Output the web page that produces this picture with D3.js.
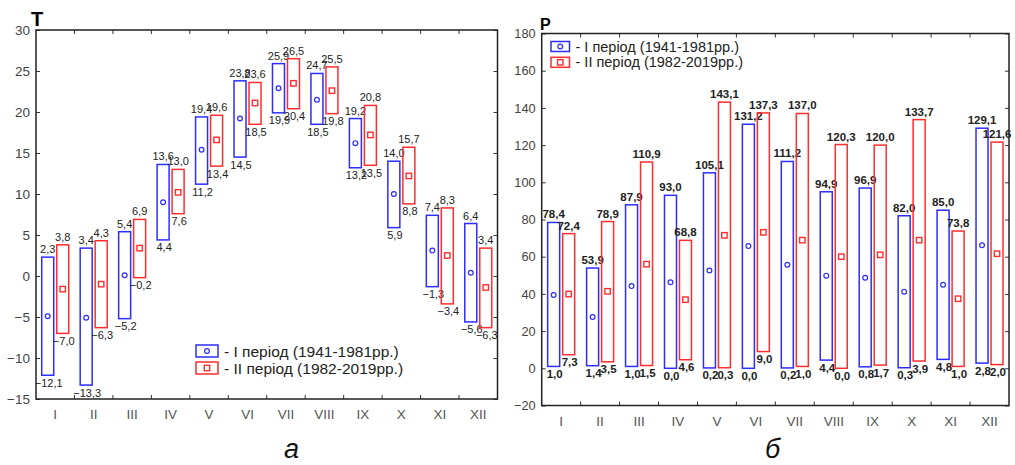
<!DOCTYPE html>
<html>
<head>
<meta charset="utf-8">
<script src="https://cdn.jsdelivr.net/npm/d3@7"></script>
<style>
  body { margin: 0; background: #fff; }
  text { font-family: "Liberation Sans", Arial, sans-serif; }
</style>
</head>
<body>
<script>
// months (roman numerals)
const months = ["I", "II", "III", "IV", "V", "VI", "VII", "VIII", "IX", "X", "XI", "XII"];

// temperature, period I (1941-1981) and II (1982-2019)
const tMax1 = [2.3, 3.4, 5.4, 13.6, 19.4, 23.8, 25.9, 24.7, 19.2, 14.0, 7.4, 6.4];
const tMin1 = [-12.1, -13.3, -5.2, 4.4, 11.2, 14.5, 19.9, 18.5, 13.2, 5.9, -1.3, -5.6];
const tMean1 = [-4.9, -5.1, 0.1, 9.0, 15.4, 19.2, 22.9, 21.5, 16.2, 10.0, 3.1, 0.4];
const tMax2 = [3.8, 4.3, 6.9, 13.0, 19.6, 23.6, 26.5, 25.5, 20.8, 15.7, 8.3, 3.4];
const tMin2 = [-7.0, -6.3, -0.2, 7.6, 13.4, 18.5, 20.4, 19.8, 13.5, 8.8, -3.4, -6.3];
const tMean2 = [-1.6, -1.0, 3.4, 10.2, 16.6, 21.1, 23.5, 22.6, 17.2, 12.2, 2.5, -1.4];
const tTicks = [-15, -10, -5, 0, 5, 10, 15, 20, 25, 30];

// precipitation
const pMax1 = [78.4, 53.9, 87.9, 93.0, 105.1, 131.2, 111.2, 94.9, 96.9, 82.0, 85.0, 129.1];
const pMin1 = [1.0, 1.4, 1.0, 0.0, 0.2, 0.0, 0.2, 4.4, 0.8, 0.3, 4.8, 2.8];
const pMean1 = [39.4, 27.6, 44.2, 46.2, 52.6, 65.7, 55.7, 49.8, 48.7, 41.2, 44.9, 66.1];
const pMax2 = [72.4, 78.9, 110.9, 68.8, 143.1, 137.3, 137.0, 120.3, 120.0, 133.7, 73.8, 121.6];
const pMin2 = [7.3, 3.5, 1.5, 4.6, 0.3, 9.0, 1.0, 0.0, 1.7, 3.9, 1.0, 2.0];
const pMean2 = [39.9, 41.4, 56.0, 36.9, 71.5, 73.1, 68.9, 60.0, 61.0, 68.9, 37.4, 61.6];
const pTicks = [-20, 0, 20, 40, 60, 80, 100, 120, 140, 160, 180];

const legendLabels = ["- I період (1941-1981рр.)", "- II період (1982-2019рр.)"];

const blue = "#2d2dff", red = "#ff2d2d";
const fmt = v => d3.format(".1f")(v).replace(".", ",");

const svg = d3.select("body").append("svg")
  .attr("width", 1015)
  .attr("height", 465);

svg.append("rect").attr("width", 1015).attr("height", 465).attr("fill", "#fff");

function drawPanel(cfg) {
  const { left, right, top, bottom } = cfg;
  const g = svg.append("g");

  const x = d3.scaleBand().domain(months).range([left, right]);
  const y = d3.scaleLinear().domain(cfg.domain).range([bottom, top]);

  // left axis with inward ticks
  const ya = g.append("g")
    .attr("transform", `translate(${left},0)`)
    .call(d3.axisLeft(y).tickValues(cfg.ticks).tickSizeInner(-4).tickSizeOuter(0).tickPadding(6));
  ya.select(".domain").remove();
  ya.selectAll("line").attr("stroke", "#333");
  ya.selectAll("text")
    .attr("font-family", "Liberation Sans, Arial, sans-serif")
    .attr("font-size", cfg.tickFont)
    .attr("fill", "#444");

  // right side ticks
  const yr = g.append("g")
    .attr("transform", `translate(${right},0)`)
    .call(d3.axisRight(y).tickValues(cfg.ticks).tickSizeInner(-4).tickSizeOuter(0).tickFormat(""));
  yr.select(".domain").remove();
  yr.selectAll("line").attr("stroke", "#333");

  // bottom axis labels
  const xa = g.append("g")
    .attr("transform", `translate(0,${bottom})`)
    .call(d3.axisBottom(x).tickSize(0).tickPadding(cfg.xPad));
  xa.select(".domain").remove();
  xa.selectAll("text")
    .attr("font-family", "Liberation Sans, Arial, sans-serif")
    .attr("font-size", 13.5)
    .attr("fill", "#555");

  // boundary ticks, top and bottom
  const bounds = months.slice(1).map(m => x(m));
  g.selectAll(".tt").data(bounds).join("line")
    .attr("x1", d => d).attr("x2", d => d)
    .attr("y1", top).attr("y2", top + 4)
    .attr("stroke", "#333");
  g.selectAll(".tb").data(bounds).join("line")
    .attr("x1", d => d).attr("x2", d => d)
    .attr("y1", bottom).attr("y2", bottom - 4)
    .attr("stroke", "#333");

  // frame
  g.append("rect")
    .attr("x", left).attr("y", top)
    .attr("width", right - left).attr("height", bottom - top)
    .attr("fill", "none")
    .attr("stroke", "#222")
    .attr("stroke-width", 1.5);

  // title letter
  g.append("text")
    .attr("x", cfg.titleX).attr("y", cfg.titleY)
    .attr("font-size", cfg.titleSize)
    .attr("font-weight", "bold")
    .attr("fill", "#000")
    .text(cfg.title);

  const bw = 12, off = 7.5;
  const series = [
    { max: cfg.max1, min: cfg.min1, mean: cfg.mean1, color: blue, dx: -off, marker: "circle" },
    { max: cfg.max2, min: cfg.min2, mean: cfg.mean2, color: red, dx: off, marker: "square" }
  ];

  series.forEach(s => {
    const cx = i => x(months[i]) + x.bandwidth() / 2 + s.dx;
    const sg = g.append("g");

    sg.selectAll("rect.box").data(months).join("rect")
      .attr("class", "box")
      .attr("x", (d, i) => cx(i) - bw / 2)
      .attr("y", (d, i) => y(s.max[i]))
      .attr("width", bw)
      .attr("height", (d, i) => y(s.min[i]) - y(s.max[i]))
      .attr("fill", "none")
      .attr("stroke", s.color)
      .attr("stroke-width", 1.5);

    if (s.marker === "circle") {
      sg.selectAll("circle").data(months).join("circle")
        .attr("cx", (d, i) => cx(i))
        .attr("cy", (d, i) => y(s.mean[i]))
        .attr("r", 2.4)
        .attr("fill", "none")
        .attr("stroke", s.color)
        .attr("stroke-width", 1.2);
    } else {
      sg.selectAll("rect.mk").data(months).join("rect")
        .attr("class", "mk")
        .attr("x", (d, i) => cx(i) - 2.7)
        .attr("y", (d, i) => y(s.mean[i]) - 2.7)
        .attr("width", 5.4).attr("height", 5.4)
        .attr("fill", "none")
        .attr("stroke", s.color)
        .attr("stroke-width", 1.4);
    }

    // value labels
    sg.selectAll("text.mx").data(months).join("text")
      .attr("class", "mx")
      .attr("x", (d, i) => cx(i))
      .attr("y", (d, i) => y(s.max[i]) - 4)
      .attr("text-anchor", "middle")
      .attr("font-size", cfg.labelFont)
      .attr("font-weight", cfg.labelWeight)
      .attr("fill", "#222")
      .text((d, i) => fmt(s.max[i]));

    sg.selectAll("text.mn").data(months).join("text")
      .attr("class", "mn")
      .attr("x", (d, i) => cx(i) + 1)
      .attr("y", (d, i) => y(s.min[i]) + 11.5)
      .attr("text-anchor", "middle")
      .attr("font-size", cfg.labelFont)
      .attr("font-weight", cfg.labelWeight)
      .attr("fill", "#222")
      .text((d, i) => fmt(s.min[i]));
  });

  // legend
  const lg = g.append("g").attr("transform", `translate(${cfg.legX},${cfg.legY})`);
  series.forEach((s, i) => {
    const yy = i * cfg.legGap;
    lg.append("rect")
      .attr("x", 0).attr("y", yy)
      .attr("width", cfg.legW).attr("height", cfg.legH)
      .attr("fill", "none").attr("stroke", s.color).attr("stroke-width", 1.5);
    if (s.marker === "circle") {
      lg.append("circle")
        .attr("cx", cfg.legW / 2).attr("cy", yy + cfg.legH / 2).attr("r", 2.4)
        .attr("fill", "none").attr("stroke", s.color).attr("stroke-width", 1.2);
    } else {
      lg.append("rect")
        .attr("x", cfg.legW / 2 - 2.7).attr("y", yy + cfg.legH / 2 - 2.7)
        .attr("width", 5.4).attr("height", 5.4)
        .attr("fill", "none").attr("stroke", s.color).attr("stroke-width", 1.4);
    }
    lg.append("text")
      .attr("x", cfg.legW + 6).attr("y", yy + cfg.legH)
      .attr("font-size", cfg.legFont)
      .attr("fill", "#222")
      .text(legendLabels[i]);
  });

  // caption
  svg.append("text")
    .attr("x", cfg.capX).attr("y", 458)
    .attr("font-family", "Open Sans, sans-serif")
    .attr("font-style", "italic")
    .attr("font-size", 27)
    .attr("fill", "#111")
    .text(cfg.caption);
}

drawPanel({
  left: 36, right: 497.5, top: 30, bottom: 399,
  domain: [-15, 30], ticks: tTicks, tickFont: 13.5, xPad: 10,
  max1: tMax1, min1: tMin1, mean1: tMean1,
  max2: tMax2, min2: tMin2, mean2: tMean2,
  labelFont: 11, labelWeight: "normal",
  title: "T", titleX: 31, titleY: 26, titleSize: 20,
  legX: 196, legY: 345, legGap: 17, legW: 22, legH: 12, legFont: 15.5,
  caption: "а", capX: 284
});

drawPanel({
  left: 541.7, right: 1009, top: 33.5, bottom: 405.5,
  domain: [-20, 180], ticks: pTicks, tickFont: 12.8, xPad: 11,
  max1: pMax1, min1: pMin1, mean1: pMean1,
  max2: pMax2, min2: pMin2, mean2: pMean2,
  labelFont: 11.5, labelWeight: "bold",
  title: "P", titleX: 540, titleY: 29.5, titleSize: 16,
  legX: 551, legY: 41.5, legGap: 15.8, legW: 18.5, legH: 10, legFont: 14.5,
  caption: "б", capX: 765
});
</script>
</body>
</html>
